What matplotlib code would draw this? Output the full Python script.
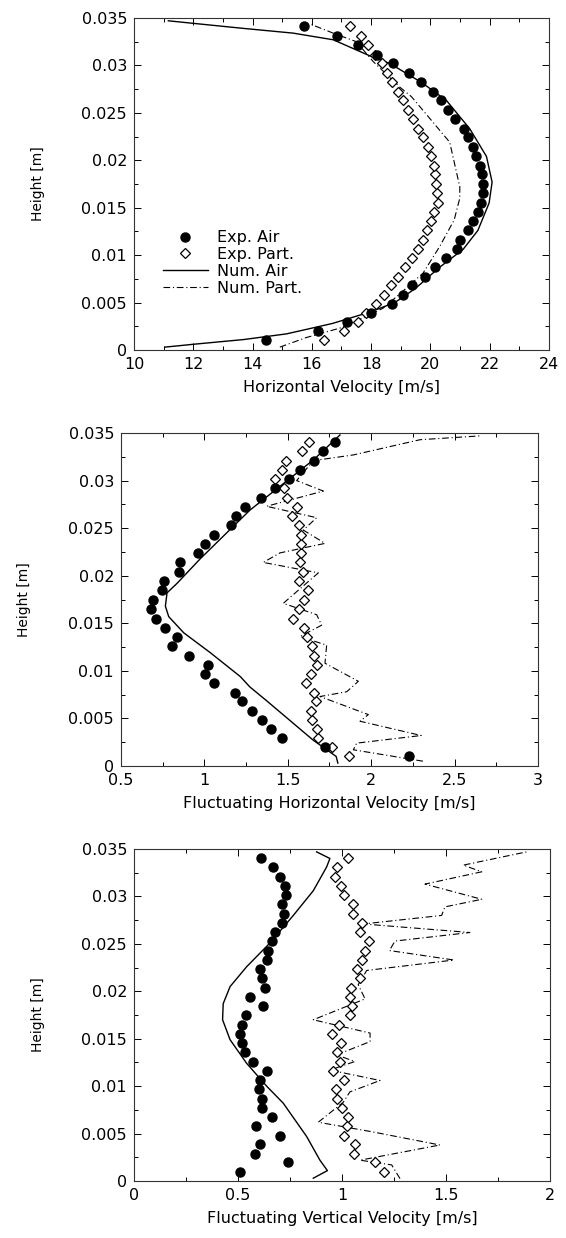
import numpy as np
import matplotlib
matplotlib.use('Agg')
import matplotlib.pyplot as plt
from matplotlib.ticker import MultipleLocator, FuncFormatter
from matplotlib.legend_handler import HandlerLine2D

plt.rcParams['font.family'] = ['DejaVu Sans']

# measurement heights [m], shared by all three profiles
height_exp = [0.0010, 0.0020, 0.0029, 0.0039, 0.0048, 0.0058, 0.0068, 0.0077, 0.0087, 0.0097,
              0.0106, 0.0116, 0.0126, 0.0136, 0.0145, 0.0155, 0.0165, 0.0175, 0.0185, 0.0194,
              0.0204, 0.0214, 0.0224, 0.0233, 0.0243, 0.0253, 0.0263, 0.0272, 0.0282, 0.0292,
              0.0302, 0.0311, 0.0321, 0.0331, 0.0341]

# --- horizontal velocity
u_exp_air = [14.44, 16.21, 17.2, 17.98, 18.7, 19.08, 19.38, 19.82, 20.17, 20.52,
             20.89, 21.01, 21.27, 21.42, 21.6, 21.72, 21.78, 21.78, 21.74, 21.66,
             21.53, 21.45, 21.26, 21.12, 20.83, 20.58, 20.37, 20.08, 19.67, 19.29,
             18.75, 18.2, 17.57, 16.84, 15.74]
u_exp_part = [16.42, 17.09, 17.54, 17.84, 18.16, 18.43, 18.66, 18.89, 19.13, 19.38,
              19.58, 19.74, 19.9, 20.02, 20.13, 20.24, 20.22, 20.2, 20.17, 20.13,
              20.03, 19.93, 19.74, 19.58, 19.4, 19.25, 19.07, 18.89, 18.72, 18.54,
              18.35, 18.13, 17.91, 17.67, 17.28]
u_num_air = [11.04, 12.0, 13.7, 15.15, 16.7, 17.96, 18.8, 19.5, 20.3, 21.1, 21.6, 21.98,
             22.08, 21.89, 21.33, 20.54, 19.7, 18.63, 17.96, 16.72, 15.37, 13.69, 12.1, 11.16]
h_num_air_u = [0.0003, 0.0006, 0.0011, 0.0017, 0.0028, 0.0040, 0.0050, 0.0065, 0.0087, 0.0106,
               0.0126, 0.0155, 0.0177, 0.0204, 0.0233, 0.0263, 0.0282, 0.0302, 0.0310, 0.0327,
               0.0334, 0.0339, 0.0344, 0.0347]
u_num_part = [14.92, 15.8, 16.94, 17.6, 18.4, 19.0, 19.75, 20.31, 20.8, 20.99, 20.99,
              20.65, 19.98, 19.36, 18.97, 18.07, 17.5, 16.72, 15.99]
h_num_part_u = [0.0003, 0.0013, 0.0023, 0.0032, 0.0044, 0.0060, 0.0081, 0.0109, 0.0137, 0.0160,
                0.0172, 0.0219, 0.0244, 0.0267, 0.0277, 0.0304, 0.0325, 0.0334, 0.0343]

# --- fluctuating horizontal velocity
urms_exp_air = [2.225, 1.725, 1.465, 1.401, 1.343, 1.285, 1.225, 1.185, 1.06, 1.004,
                1.024, 0.906, 0.804, 0.836, 0.764, 0.712, 0.682, 0.692, 0.748, 0.756,
                0.848, 0.856, 0.962, 1.006, 1.056, 1.159, 1.187, 1.243, 1.337, 1.425,
                1.509, 1.575, 1.657, 1.713, 1.781]
urms_exp_part = [1.869, 1.767, 1.679, 1.673, 1.643, 1.637, 1.667, 1.659, 1.609, 1.639,
                 1.677, 1.657, 1.647, 1.613, 1.597, 1.533, 1.569, 1.599, 1.623, 1.567,
                 1.589, 1.573, 1.579, 1.577, 1.577, 1.567, 1.527, 1.553, 1.493, 1.479,
                 1.423, 1.463, 1.489, 1.583, 1.628]
urms_num_air = [1.80, 1.79, 1.653, 1.37, 1.273, 1.215, 1.036, 0.876, 0.786, 0.766, 0.776,
                0.836, 0.976, 1.273, 1.655, 1.813]
h_num_air_urms = [0.0003, 0.0010, 0.0027, 0.0069, 0.0083, 0.0094, 0.0119, 0.0140, 0.0157,
                  0.0168, 0.0182, 0.0192, 0.0218, 0.0269, 0.0322, 0.0348]
urms_num_part = [2.31, 1.893, 1.913, 2.30, 1.933, 1.983, 1.693, 1.853, 1.923, 1.723,
                 1.733, 1.573, 1.703, 1.673, 1.473, 1.683, 1.353, 1.453, 1.723, 1.593,
                 1.673, 1.373, 1.713, 1.553, 1.653, 1.893, 2.293, 2.652]
h_num_part_urms = [0.0005, 0.0017, 0.0024, 0.0032, 0.0047, 0.0054, 0.0073, 0.0078, 0.0089, 0.0108,
                   0.0127, 0.0136, 0.0148, 0.0159, 0.0171, 0.0203, 0.0214, 0.0224, 0.0234, 0.0248,
                   0.0261, 0.0273, 0.0289, 0.0300, 0.0321, 0.0327, 0.0343, 0.0347]

# --- fluctuating vertical velocity
vrms_exp_air = [0.511, 0.739, 0.583, 0.606, 0.704, 0.585, 0.662, 0.615, 0.615, 0.603,
                0.606, 0.638, 0.572, 0.535, 0.521, 0.511, 0.518, 0.537, 0.620, 0.558,
                0.631, 0.617, 0.607, 0.641, 0.644, 0.665, 0.676, 0.71, 0.721, 0.712,
                0.731, 0.726, 0.704, 0.667, 0.609]
vrms_exp_part = [1.2, 1.16, 1.059, 1.064, 1.011, 1.026, 1.03, 1.002, 0.974, 0.971,
                 1.01, 0.955, 0.992, 0.974, 0.995, 0.954, 0.987, 1.038, 1.05, 1.038,
                 1.043, 1.085, 1.074, 1.098, 1.111, 1.131, 1.088, 1.098, 1.053, 1.053,
                 1.008, 0.994, 0.968, 0.978, 1.03]
vrms_num_air = [0.862, 0.93, 0.894, 0.83, 0.718, 0.638, 0.542, 0.462, 0.426, 0.429, 0.462,
                0.542, 0.654, 0.766, 0.862, 0.926, 0.942, 0.878]
h_num_air_vrms = [0.0003, 0.0011, 0.0022, 0.0047, 0.0082, 0.0100, 0.0124, 0.0149, 0.0170,
                  0.0187, 0.0205, 0.0226, 0.0251, 0.0280, 0.0306, 0.0331, 0.0340, 0.0347]
vrms_num_part = [1.279, 1.239, 1.087, 1.471, 1.143, 0.886, 1.006, 1.038, 1.183, 0.942,
                 1.062, 0.974, 1.135, 1.135, 0.862, 1.111, 1.078, 1.119, 1.538, 1.228,
                 1.255, 1.615, 1.103, 1.479, 1.495, 1.672, 1.399, 1.672, 1.583, 1.888]
h_num_part_vrms = [0.00025, 0.0017, 0.0022, 0.0038, 0.0052, 0.0062, 0.0083, 0.0094, 0.0106, 0.0117,
                   0.0126, 0.0133, 0.0147, 0.0156, 0.0170, 0.0192, 0.0207, 0.0222, 0.0233, 0.0243,
                   0.0253, 0.0262, 0.0271, 0.0280, 0.0289, 0.0297, 0.0313, 0.0326, 0.0333, 0.0347]

DASHDOT = (6, 2.5, 1, 2.5)


class RightMarker(HandlerLine2D):
  # put the legend marker at the right end of the handle
  def get_xdata(self, legend, xdescent, ydescent, width, height, fontsize):
    xdata = [-xdescent, -xdescent + width]
    return xdata, [-xdescent + width - 0.3 * fontsize]


def fmt(v, pos):
  return '%g' % v


def draw_panel(ax, air, part, num_air_x, num_air_y, num_part_x, num_part_y):
  ax.plot(air, height_exp, 'o', color='black', markersize=6.5, label='Exp. Air', zorder=4)
  ax.plot(part, height_exp, 'D', color='black', markerfacecolor='white', markersize=4.6,
          markeredgewidth=0.9, label='Exp. Part.', zorder=3)
  ax.plot(num_air_x, num_air_y, '-', color='black', linewidth=1.0, label='Num. Air')
  ax.plot(num_part_x, num_part_y, color='black', linewidth=0.8, dashes=DASHDOT,
          label='Num. Part.')


def style_axes(ax, xmin, xmax, xmajor, xminor, xlabel):
  ax.set_xlim(xmin, xmax)
  ax.set_ylim(0, 0.035)
  ax.xaxis.set_major_locator(MultipleLocator(xmajor))
  ax.xaxis.set_minor_locator(MultipleLocator(xminor))
  ax.yaxis.set_major_locator(MultipleLocator(0.005))
  ax.yaxis.set_minor_locator(MultipleLocator(0.0025))
  ax.xaxis.set_major_formatter(FuncFormatter(fmt))
  ax.yaxis.set_major_formatter(FuncFormatter(fmt))
  ax.tick_params(which='both', direction='in', top=True, right=True, width=0.7,
                 labelsize=11.5, colors='black')
  ax.tick_params(which='major', length=5, pad=5)
  ax.tick_params(which='minor', length=3)
  for s in ax.spines.values():
    s.set_linewidth(0.8)
    s.set_color('#333333')
  ax.set_xlabel(xlabel, fontsize=11.5, labelpad=6)
  ax.set_ylabel('Height [m]', fontsize=10)
  ax.yaxis.set_label_coords(-0.215, 0.5)


fig = plt.figure(figsize=(5.66, 12.38), dpi=100)

ax1 = fig.add_axes([0.2367, 0.7173, 0.7333, 0.2682])
draw_panel(ax1, u_exp_air, u_exp_part, u_num_air, h_num_air_u, u_num_part, h_num_part_u)
style_axes(ax1, 10, 24, 2, 1, 'Horizontal Velocity [m/s]')
ax1.legend(loc='center left', bbox_to_anchor=(0.07, 0.262), frameon=False, fontsize=11.5,
           borderpad=0, borderaxespad=0, handlelength=2.8, handletextpad=0.6,
           labelspacing=0.12, numpoints=1, handler_map={matplotlib.lines.Line2D: RightMarker()})

ax2 = fig.add_axes([0.2138, 0.3813, 0.7367, 0.2689])
draw_panel(ax2, urms_exp_air, urms_exp_part, urms_num_air, h_num_air_urms,
           urms_num_part, h_num_part_urms)
style_axes(ax2, 0.5, 3, 0.5, 0.25, 'Fluctuating Horizontal Velocity [m/s]')

ax3 = fig.add_axes([0.2367, 0.0460, 0.7350, 0.2682])
draw_panel(ax3, vrms_exp_air, vrms_exp_part, vrms_num_air, h_num_air_vrms,
           vrms_num_part, h_num_part_vrms)
style_axes(ax3, 0, 2, 0.5, 0.25, 'Fluctuating Vertical Velocity [m/s]')

fig.savefig('out.png', dpi=100)
